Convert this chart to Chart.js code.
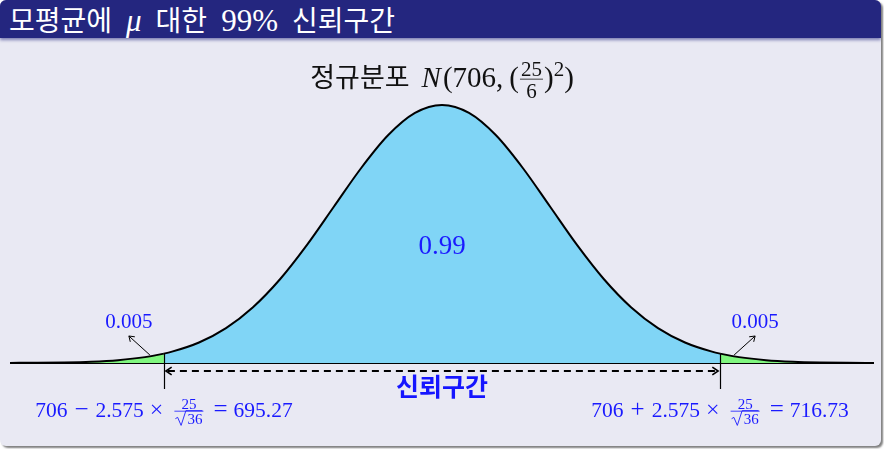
<!DOCTYPE html>
<html><head><meta charset="utf-8">
<script src="https://cdn.jsdelivr.net/npm/chart.js@4/dist/chart.umd.min.js"></script>
<style>
html,body{margin:0;padding:0;background:#fff;width:884px;height:449px;overflow:hidden;}
#panel{position:absolute;left:0;top:0;width:881px;height:446px;background:#e9e9f3;border-radius:6px;box-shadow:2px 2px 2px rgba(0,0,0,0.5);overflow:hidden;}
#bar{position:absolute;left:0;top:0;width:881px;height:38px;background:#24267f;color:#fff;font-family:"Noto Sans CJK KR";font-size:28px;line-height:38px;padding-left:9px;box-sizing:border-box;box-shadow:0 2px 3px rgba(36,38,127,0.55);white-space:nowrap;}
#bar span{display:inline-block;}
#bar .mu{font-family:"Liberation Serif";font-style:italic;font-size:31px;}
#bar .num{font-family:"Liberation Serif";font-size:31px;}
#bar .sp{width:14px;}
#wrap{position:absolute;left:0;top:0;width:884px;height:449px;}
</style></head>
<body>
<div id="panel"><div id="bar"><span class="ko">모평균에</span><span class="sp"></span><span class="mu">μ</span><span class="sp"></span><span class="ko">대한</span><span class="sp"></span><span class="num">99%</span><span class="sp"></span><span class="ko">신뢰구간</span></div></div>
<div id="wrap"><canvas id="c" width="884" height="449"></canvas></div>
<script>
// ---- data (normal density N(706, (25/6)^2), values read/tabulated) ----
const xValues = [689.333, 690.375, 691.417, 692.458, 693.5, 694.542, 695.27, 695.583, 696.625, 697.667, 698.708, 699.75, 700.792, 701.833, 702.875, 703.917, 704.958,
  706,
  707.042, 708.083, 709.125, 710.167, 711.208, 712.25, 713.292, 714.333, 715.375, 716.417, 716.73, 717.458, 718.5, 719.542, 720.583, 721.625, 722.667];
const density = [0.0000326, 0.000084, 0.00020968, 0.00048735, 0.0010637, 0.0021821, 0.0034785, 0.0042071, 0.0076176, 0.012958, 0.020707, 0.031084, 0.043835, 0.058073, 0.072273, 0.084496, 0.0928,
  0.095746,
  0.0928, 0.084496, 0.072273, 0.058073, 0.043835, 0.031084, 0.020707, 0.012958, 0.0076176, 0.0042071, 0.0034785, 0.0021821, 0.0010637, 0.00048735, 0.00020968, 0.000084, 0.0000326];
const lowerLimit = 695.27;
const upperLimit = 716.73;
const centerProb = '0.99';
const tailProb = '0.005';
const meanValue = 706;

const BLUE_FILL = '#80d5f6';
const GREEN_FILL = '#80f77f';
const TXT = '#1a1aff';
const SERIF = '"Liberation Serif", serif';

function drawMath(ctx, parts, cx, base, size, color) {
  ctx.save();
  ctx.fillStyle = color; ctx.strokeStyle = color;
  const fsize = Math.round(size * 0.72);
  const items = parts.map(p => {
    if (p.gap !== undefined) return Object.assign({w: p.gap}, p);
    if (p.frac) {
      ctx.font = fsize + 'px ' + SERIF;
      const wn = ctx.measureText(p.frac[0]).width;
      const wd = ctx.measureText(p.frac[1]).width + (p.sqrt ? fsize * 0.8 : 0);
      return Object.assign({w: Math.max(wn, wd) + 4, wn, wd}, p);
    }
    if (p.sup) {
      ctx.font = fsize + 'px ' + SERIF;
      return Object.assign({w: ctx.measureText(p.sup).width}, p);
    }
    ctx.font = (p.italic ? 'italic ' : '') + (p.size || size) + 'px ' + (p.font || SERIF);
    return Object.assign({w: ctx.measureText(p.t).width}, p);
  });
  const total = items.reduce((a, b) => a + b.w, 0);
  let x = cx - total / 2;
  ctx.textBaseline = 'alphabetic';
  ctx.textAlign = 'left';
  for (const it of items) {
    if (it.gap !== undefined) { x += it.w; continue; }
    if (it.frac) {
      ctx.font = fsize + 'px ' + SERIF;
      const mid = base - size * 0.27;
      ctx.fillText(it.frac[0], x + (it.w - it.wn) / 2, mid - size * 0.12);
      ctx.lineWidth = 0.8;
      ctx.beginPath(); ctx.moveTo(x + 1, mid); ctx.lineTo(x + it.w - 1, mid); ctx.stroke();
      let dx = x + (it.w - it.wd) / 2;
      const dbase = mid + fsize * 0.88;
      if (it.sqrt) {
        const h = fsize * 0.85;
        ctx.lineWidth = 0.9;
        ctx.beginPath();
        ctx.moveTo(dx, dbase - h * 0.45);
        ctx.lineTo(dx + fsize * 0.15, dbase - h * 0.55);
        ctx.lineTo(dx + fsize * 0.38, dbase + 1);
        ctx.lineTo(dx + fsize * 0.7, dbase - h - 1);
        ctx.lineTo(dx + it.wd, dbase - h - 1);
        ctx.stroke();
        dx += fsize * 0.8;
      }
      ctx.fillText(it.frac[1], dx, dbase);
    } else if (it.sup) {
      ctx.font = fsize + 'px ' + SERIF;
      ctx.fillText(it.sup, x, base - size * 0.38);
    } else {
      ctx.font = (it.italic ? 'italic ' : '') + (it.size || size) + 'px ' + (it.font || SERIF);
      ctx.fillText(it.t, x, base);
    }
    x += it.w;
  }
  ctx.restore();
}

function arrowHead(ctx, x, y, ang, len) {
  ctx.beginPath();
  ctx.moveTo(x - len * Math.cos(ang - 0.6), y - len * Math.sin(ang - 0.6));
  ctx.lineTo(x, y);
  ctx.lineTo(x - len * Math.cos(ang + 0.6), y - len * Math.sin(ang + 0.6));
  ctx.stroke();
}

function formula(sign, result) {
  return [{t: '706'}, {gap: 7}, {t: sign, size: 25}, {gap: 7}, {t: '2.575'}, {gap: 6}, {t: '×', size: 24}, {gap: 10},
    {frac: ['25', '36'], sqrt: true}, {gap: 9}, {t: '=', size: 25}, {gap: 6}, {t: result}];
}

const overlay = {
  id: 'overlay',
  afterDatasetsDraw(chart) {
    const ctx = chart.ctx;
    const xs = chart.scales.x, ys = chart.scales.y;
    const y0 = ys.getPixelForValue(0);
    const xl = xs.getPixelForValue(lowerLimit), xr = xs.getPixelForValue(upperLimit);
    const yc = ys.getPixelForValue(density[xValues.indexOf(lowerLimit)]);
    const xm = xs.getPixelForValue(meanValue);
    ctx.save();
    ctx.strokeStyle = '#000'; ctx.lineWidth = 1;
    ctx.beginPath(); ctx.moveTo(xs.left, y0 + 0.5); ctx.lineTo(xs.right, y0 + 0.5); ctx.stroke();
    ctx.lineWidth = 1.2;
    [xl, xr].forEach(px => {
      ctx.beginPath(); ctx.moveTo(Math.round(px) + 0.5, yc); ctx.lineTo(Math.round(px) + 0.5, y0 + 26); ctx.stroke();
    });
    const ya = y0 + 8;
    ctx.lineWidth = 2;
    ctx.setLineDash([7, 5]);
    ctx.beginPath(); ctx.moveTo(xl + 4, ya); ctx.lineTo(xr - 4, ya); ctx.stroke();
    ctx.setLineDash([]);
    ctx.lineWidth = 1.6;
    arrowHead(ctx, xl + 2, ya, Math.PI, 7);
    arrowHead(ctx, xr - 2, ya, 0, 7);
    ctx.lineWidth = 1;
    ctx.beginPath(); ctx.moveTo(xl - 14, y0 - 8); ctx.lineTo(xl - 35, y0 - 27); ctx.stroke();
    arrowHead(ctx, xl - 35, y0 - 27, Math.atan2(-19, -21), 6);
    ctx.beginPath(); ctx.moveTo(xr + 14, y0 - 8); ctx.lineTo(xr + 35, y0 - 27); ctx.stroke();
    arrowHead(ctx, xr + 35, y0 - 27, Math.atan2(-19, 21), 6);
    ctx.restore();

    drawMath(ctx, [{t: tailProb}], xl - 35, y0 - 35, 21, TXT);
    drawMath(ctx, [{t: tailProb}], xr + 35, y0 - 35, 21, TXT);
    drawMath(ctx, [{t: centerProb}], xm, ys.getPixelForValue(0.0405), 27, TXT);
    drawMath(ctx, formula('−', lowerLimit.toFixed(2)), xl, y0 + 54, 21.5, TXT);
    drawMath(ctx, formula('+', upperLimit.toFixed(2)), xr, y0 + 54, 21.5, TXT);
    ctx.save();
    ctx.font = 'bold 25px "Noto Sans CJK KR"';
    ctx.fillStyle = '#1515ff'; ctx.textAlign = 'center'; ctx.textBaseline = 'middle';
    ctx.fillText('신뢰구간', xm, y0 + 23);
    ctx.restore();
    drawMath(ctx, [
      {t: '정규분포', font: '"Noto Sans CJK KR"', size: 27},
      {gap: 12},
      {t: 'N', italic: true},
      {gap: 2},
      {t: '(706,'}, {gap: 6}, {t: '('},
      {frac: ['25', '6']},
      {t: ')'}, {sup: '2'}, {t: ')'}
    ], xm, 87, 29, '#111');
  }
};

new Chart(document.getElementById('c'), {
  type: 'line',
  data: {
    datasets: [{
      data: xValues.map((x, i) => ({x: x, y: density[i]})),
      borderColor: '#000',
      borderWidth: 2,
      pointRadius: 0,
      fill: 'origin',
      backgroundColor: BLUE_FILL,
      cubicInterpolationMode: 'monotone',
      clip: false,
      segment: {
        backgroundColor: c => (c.p0.parsed.x < lowerLimit - 1e-6 || c.p0.parsed.x > upperLimit - 1e-6) ? GREEN_FILL : BLUE_FILL
      }
    }]
  },
  options: {
    responsive: false,
    devicePixelRatio: 1,
    animation: false,
    layout: {padding: {left: 10, right: 10, top: 105, bottom: 86}},
    scales: {
      x: {type: 'linear', min: 689.333, max: 722.667, display: false},
      y: {min: 0, max: 0.095746, display: false}
    },
    plugins: {legend: {display: false}, tooltip: {enabled: false}, title: {display: false}}
  },
  plugins: [overlay]
});
</script>
</body></html>
